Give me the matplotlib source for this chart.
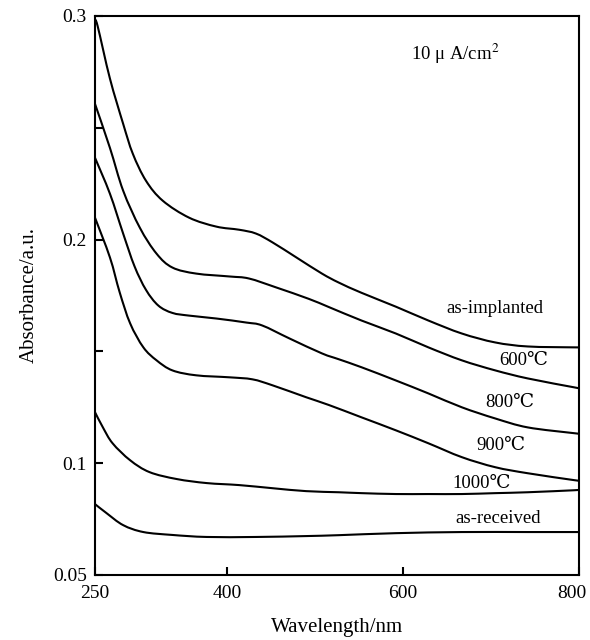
import matplotlib
matplotlib.use("Agg")
import matplotlib.pyplot as plt
from matplotlib.path import Path
from matplotlib.patches import PathPatch
from matplotlib.transforms import ScaledTranslation

plt.rcParams['font.family'] = ['Liberation Serif', 'DejaVu Serif', 'Noto Sans CJK SC']
plt.rcParams['mathtext.fontset'] = 'stix'

# wavelength (nm) / absorbance (a.u.)
wl_implanted = [250, 253, 267, 282, 293, 308, 327, 357, 388, 414, 433, 452, 479, 508, 527, 553, 592, 629, 667, 705, 742, 795, 800]
ab_implanted = [0.298, 0.2955, 0.272, 0.2518, 0.2384, 0.2263, 0.2174, 0.2098, 0.2058, 0.2044, 0.2027, 0.1987, 0.1920, 0.1848, 0.1808, 0.1762, 0.1700, 0.1638, 0.1580, 0.1540, 0.1522, 0.1518, 0.1518]

wl_600 = [250, 267, 282, 301, 320, 338, 365, 403, 425, 456, 493, 516, 553, 592, 629, 667, 705, 742, 795, 800]
ab_600 = [0.2607, 0.2410, 0.2219, 0.2053, 0.1937, 0.1875, 0.1848, 0.1835, 0.1826, 0.1786, 0.1735, 0.1698, 0.1638, 0.1580, 0.1518, 0.1460, 0.1415, 0.1379, 0.1339, 0.1335]

wl_800 = [250, 267, 282, 295, 308, 322, 338, 357, 388, 422, 440, 471, 508, 527, 553, 592, 629, 667, 705, 742, 795, 800]
ab_800 = [0.2366, 0.2205, 0.2027, 0.1880, 0.1775, 0.1705, 0.1672, 0.1660, 0.1647, 0.1629, 0.1616, 0.1558, 0.1491, 0.1465, 0.1429, 0.1370, 0.1312, 0.1250, 0.1200, 0.1160, 0.1134, 0.1132]

wl_900 = [250, 267, 278, 290, 305, 320, 338, 365, 403, 429, 452, 490, 516, 553, 592, 629, 667, 705, 742, 795, 800]
ab_900 = [0.2098, 0.1920, 0.1765, 0.1625, 0.1518, 0.1460, 0.1415, 0.1393, 0.1384, 0.1375, 0.1348, 0.1295, 0.1260, 0.1205, 0.1147, 0.1089, 0.1027, 0.0982, 0.0955, 0.0924, 0.0922]

wl_1000 = [250, 259, 270, 290, 312, 343, 377, 414, 452, 490, 527, 553, 592, 629, 667, 705, 742, 795, 800]
ab_1000 = [0.1228, 0.1160, 0.1089, 0.1013, 0.0960, 0.0929, 0.0911, 0.0902, 0.0888, 0.0875, 0.0870, 0.0866, 0.0862, 0.0862, 0.0862, 0.0866, 0.0870, 0.0879, 0.0881]

wl_received = [250, 263, 282, 305, 338, 377, 433, 490, 527, 592, 667, 742, 800]
ab_received = [0.0817, 0.0777, 0.0723, 0.0692, 0.0679, 0.0670, 0.0670, 0.0674, 0.0678, 0.0687, 0.0692, 0.0692, 0.0692]

curve_labels = ['as-implanted', '600℃', '800℃', '900℃', '1000℃', 'as-received']
label_wl = [705, 737, 722, 711, 690, 708]
label_ab = [0.169, 0.146, 0.127, 0.108, 0.091, 0.0754]

x_ticks = [250, 400, 600, 800]
y_ticks = [0.05, 0.1, 0.15, 0.2, 0.25, 0.3]
y_ticklabels = ['0.05', '0.1', '', '0.2', '', '0.3']


def smooth_path(xs, ys):
    # catmull-rom through the read points, drawn as cubic bezier segments
    pts = list(zip(xs, ys))
    verts = [pts[0]]
    codes = [Path.MOVETO]
    n = len(pts)
    for i in range(n - 1):
        p0 = pts[i - 1] if i > 0 else pts[i]
        p1 = pts[i]
        p2 = pts[i + 1]
        p3 = pts[i + 2] if i + 2 < n else pts[i + 1]
        c1 = (p1[0] + (p2[0] - p0[0]) / 6, p1[1] + (p2[1] - p0[1]) / 6)
        c2 = (p2[0] - (p3[0] - p1[0]) / 6, p2[1] - (p3[1] - p1[1]) / 6)
        verts += [c1, c2, p2]
        codes += [Path.CURVE4] * 3
    return Path(verts, codes)


fig = plt.figure(figsize=(5.9, 6.4), dpi=100)
ax = fig.add_axes([0.161, 0.1016, 0.82, 0.8734])

for wl, ab in [(wl_implanted, ab_implanted), (wl_600, ab_600), (wl_800, ab_800),
               (wl_900, ab_900), (wl_1000, ab_1000), (wl_received, ab_received)]:
    ax.add_patch(PathPatch(smooth_path(wl, ab), facecolor='none', edgecolor='black',
                           linewidth=1.5, capstyle='round', joinstyle='round'))

for text, x, y in zip(curve_labels, label_wl, label_ab):
    ax.text(x, y, text, ha='center', va='center', fontsize=13.5)

ax.text(659, 0.283, '10 μ A/cm$^2$', ha='center', va='center', fontsize=13.5)

ax.set_xlim(250, 800)
ax.set_ylim(0.05, 0.3)
ax.set_xticks(x_ticks)
ax.set_xticklabels([str(v) for v in x_ticks])
ax.set_yticks(y_ticks)
ax.set_yticklabels(y_ticklabels)
ax.tick_params(direction='in', length=6, width=1.5, labelsize=14)
ax.tick_params(axis='x', pad=7)
ax.tick_params(axis='y', pad=6)
for s in ax.spines.values():
    s.set_linewidth(1.5)

# nudge the last x label so it stays inside the figure
last = ax.get_xticklabels()[-1]
last.set_transform(last.get_transform() + ScaledTranslation(-5 / 72, 0, fig.dpi_scale_trans))

ax.set_xlabel('Wavelength/nm', fontsize=15, labelpad=12)
ax.set_ylabel('Absorbance/a.u.', fontsize=15, labelpad=10)

fig.savefig('out.png', dpi=100)
